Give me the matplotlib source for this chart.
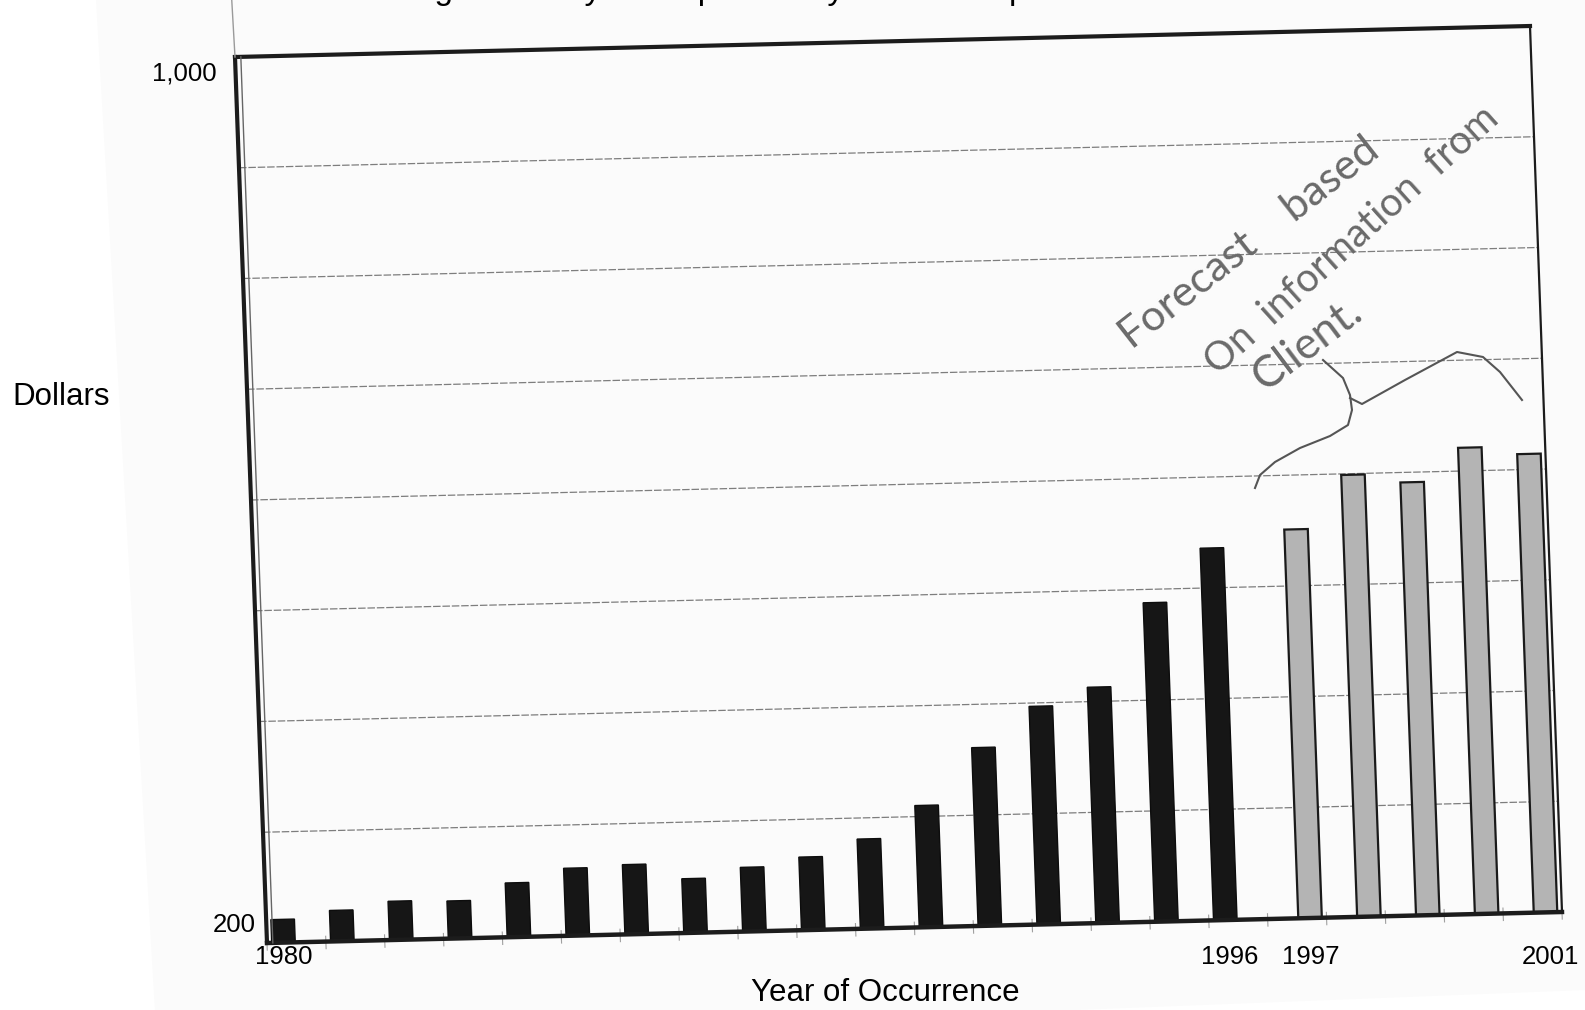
import numpy as np
import matplotlib
matplotlib.use("Agg")
import matplotlib.pyplot as plt
from matplotlib.transforms import Affine2D
from matplotlib.patches import Polygon
from matplotlib.lines import Line2D

# ---- data ----
years = list(range(1980, 2002))
actual_years = years[:17]
actual_dollars = [221, 228, 235, 234, 249, 261, 263, 249, 258, 266, 281,
                  310, 361, 397, 413, 488, 536]
forecast_years = years[17:]
forecast_dollars = [551, 599, 591, 621, 614]
grid_dollars = [300, 400, 500, 600, 700, 800, 900]
y_limits = (200, 1000)
y_tick_labels = ["1,000", "200"]
x_tick_labels = ["1980", "1996", "1997", "2001"]

title = "Average Severity for Exposure by Year of Report"
note_lines = ["Forecast    based", "On  information  from", "Client."]

# ---- figure ----
W, H = 1585, 1010
fig = plt.figure(figsize=(W / 100, H / 100), dpi=100)
fig.patch.set_facecolor("white")


def px(x, y):
    """Pixel position (origin top-left) -> figure fraction."""
    return x / W, (H - y) / H


# faint tint of the scanned sheet
sheet = [(96, 0), (W, 0), (W, 990), (157, 1046)]
fig.add_artist(Polygon([px(*p) for p in sheet], closed=True,
                       transform=fig.transFigure, facecolor="#fbfbfb",
                       edgecolor="none", zorder=-5))

# the plotting plane sits slightly skewed on the sheet
plane = (Affine2D(np.array([[1295.0, -32.0, 267.0],
                            [31.0, 886.0, 67.0],
                            [0.0, 0.0, 1.0]]))
         + Affine2D().scale(1 / W, 1 / H) + fig.transFigure)

ax = fig.add_axes([267 / W, 67 / H, 1295 / W, 886 / H])
ax.set_xlim(-0.5, len(years) - 0.5)
ax.set_ylim(*y_limits)
ax.set_axis_off()
data_tf = ax.transScale + ax.transLimits + plane

# gridlines
for g in grid_dollars:
    ax.plot([-0.5, len(years) - 0.5], [g, g], transform=data_tf,
            color="#7d7d7d", lw=0.9, ls=(0, (6, 1.5)), clip_on=False, zorder=1)

# bars: actual (dark) and forecast (grey), side-offset within each year slot
pos = {y: i for i, y in enumerate(years)}
xa = np.array([pos[y] for y in actual_years]) - 0.22
xf = np.array([pos[y] for y in forecast_years]) + 0.22
base = y_limits[0]
bars_a = ax.bar(xa, np.array(actual_dollars) - base, bottom=base, width=0.4,
                color="#161616", edgecolor="#0d0d0d", linewidth=1.0, zorder=3)
bars_f = ax.bar(xf, np.array(forecast_dollars) - base, bottom=base, width=0.4,
                color="#b4b4b4", edgecolor="#1a1a1a", linewidth=1.6, zorder=3)
for p in list(bars_a) + list(bars_f):
    p.set_transform(data_tf)
    p.set_clip_on(False)

# frame
fk = dict(transform=plane, clip_on=False, color="#1c1c1c",
          solid_capstyle="projecting", zorder=4)
ax.plot([0, 1], [1, 1], lw=3.0, **fk)
ax.plot([0, 0], [0, 1], lw=3.0, **fk)
ax.plot([1, 1], [0, 1], lw=1.6, **fk)
ax.plot([0, 1], [0, 0], lw=3.2, **fk)
ax.plot([0.0045, 0.0045], [0, 1], lw=1.0, color="#666666",
        transform=plane, clip_on=False, zorder=4)
ax.plot([0.0, -0.001], [1, 1.07], lw=1.0, color="#9a9a9a",
        transform=plane, clip_on=False, zorder=4)

# small boundary ticks on the base line
n = len(years)
for k in range(n + 1):
    u = k / n
    ax.plot([u, u], [-0.008, 0.006], lw=0.8, color="#a0a0a0",
            transform=plane, clip_on=False, zorder=2)

# ---- text ----
sans = ["Liberation Sans", "DejaVu Sans"]
fig.text(348 / W, (H + 1) / H, title, ha="left", va="baseline",
         fontsize=24, family=sans)

for lab, (x, y) in zip(y_tick_labels, [(217, 74), (256, 925)]):
    fig.text(*px(x, y), lab, ha="right", va="center", fontsize=18.5, family=sans)
for lab, x in zip(x_tick_labels, [284, 1230, 1311, 1550]):
    fig.text(*px(x, 957), lab, ha="center", va="center", fontsize=18.5, family=sans)
fig.text(*px(61, 397), "Dollars", ha="center", va="center", fontsize=22.5, family=sans)
fig.text(*px(885, 993), "Year of Occurrence", ha="center", va="center",
         fontsize=22.5, family=sans)

# pencilled note about the forecast years
hand = dict(family=["Lato", "DejaVu Sans"], fontweight="normal", color="#6a6a6a",
            rotation_mode="anchor", ha="left", va="baseline")
for line, (x, y, ang, fs) in zip(note_lines, [(1132, 350, 38, 31),
                                              (1218, 376, 42, 28.5),
                                              (1265, 392, 37, 32)]):
    fig.text(*px(x, y), line, rotation=ang, fontsize=fs, **hand)

brace_left = [(1323, 360), (1343, 378), (1350, 395), (1352, 410), (1348, 425),
              (1330, 436), (1300, 448), (1275, 462), (1260, 475), (1255, 488)]
brace_right = [(1350, 398), (1362, 404), (1405, 380), (1457, 352),
               (1483, 357), (1500, 372), (1522, 400)]
for path in (brace_left, brace_right):
    xs, ys = zip(*[px(*p) for p in path])
    fig.add_artist(Line2D(xs, ys, transform=fig.transFigure, color="#555555",
                          lw=1.5, solid_joinstyle="round"))

fig.savefig("out.png", dpi=100)
